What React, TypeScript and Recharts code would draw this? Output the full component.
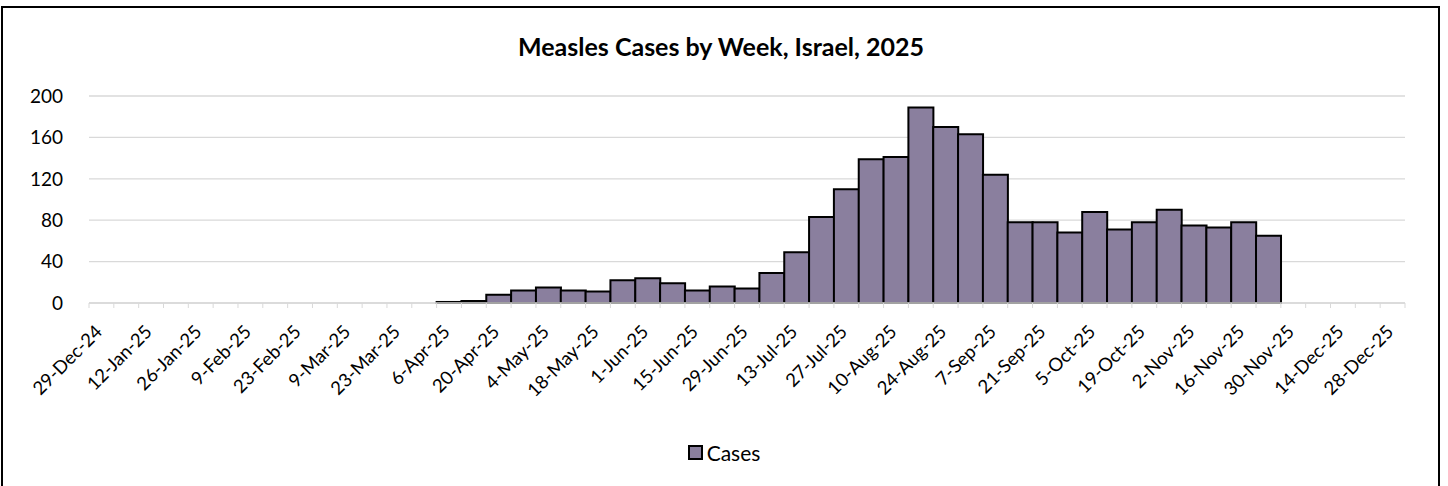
import { BarChart, Bar, XAxis, YAxis, CartesianGrid, Legend } from "recharts";

const weeks = [
  "29-Dec-24", "5-Jan-25", "12-Jan-25", "19-Jan-25", "26-Jan-25", "2-Feb-25", "9-Feb-25",
  "16-Feb-25", "23-Feb-25", "2-Mar-25", "9-Mar-25", "16-Mar-25", "23-Mar-25", "30-Mar-25",
  "6-Apr-25", "13-Apr-25", "20-Apr-25", "27-Apr-25", "4-May-25", "11-May-25", "18-May-25",
  "25-May-25", "1-Jun-25", "8-Jun-25", "15-Jun-25", "22-Jun-25", "29-Jun-25", "6-Jul-25",
  "13-Jul-25", "20-Jul-25", "27-Jul-25", "3-Aug-25", "10-Aug-25", "17-Aug-25", "24-Aug-25",
  "31-Aug-25", "7-Sep-25", "14-Sep-25", "21-Sep-25", "28-Sep-25", "5-Oct-25", "12-Oct-25",
  "19-Oct-25", "26-Oct-25", "2-Nov-25", "9-Nov-25", "16-Nov-25", "23-Nov-25", "30-Nov-25",
  "7-Dec-25", "14-Dec-25", "21-Dec-25", "28-Dec-25",
];

// weekly case counts, null = week not reported yet
const cases: (number | null)[] = [
  0, 0, 0, 0, 0, 0, 0, 0, 0, 0, 0, 0, 0, 0,
  1, 2, 8, 12, 15, 12, 11, 22, 24, 19, 12, 16, 14, 29, 49, 83, 110,
  139, 141, 189, 170, 163, 124, 78, 78, 68, 88, 71, 78, 90, 75, 73, 78, 65,
  null, null, null, null, null,
];

const yTicks = [0, 40, 80, 120, 160, 200];

const data = weeks.map((week, i) => ({ week, cases: cases[i] }));

const W = 1448;
const H = 486;
const MARGIN = { top: 96, right: 43, left: 0, bottom: 18 };
const Y_WIDTH = 89;
const BAR_FILL = "#8a7f9e";
const GRID = "#d9d9d9";
const FONT = "Lato, 'Open Sans', sans-serif";

function WeekTick(props: any) {
  const { x, y, payload, index } = props;
  const bw = (W - MARGIN.right - MARGIN.left - Y_WIDTH) / weeks.length;
  const half = payload?.offset || bw / 2;
  const i = payload?.index ?? index;
  const tx = x + 2;
  const ty = y + 30;
  return (
    <g>
      <line x1={x - half} x2={x - half} y1={y} y2={y + 5} stroke={GRID} />
      {i === weeks.length - 1 && (
        <line x1={x + half} x2={x + half} y1={y} y2={y + 5} stroke={GRID} />
      )}
      {i % 2 === 0 && (
        <text
          x={tx}
          y={ty}
          transform={`rotate(-45, ${tx}, ${ty})`}
          textAnchor="end"
          fontSize={18.5}
          fontFamily={FONT}
          fill="#000"
        >
          {payload.value}
        </text>
      )}
    </g>
  );
}

function CasesLegend() {
  return (
    <div
      style={{
        height: 32,
        display: "flex",
        alignItems: "center",
        justifyContent: "center",
        fontFamily: FONT,
        fontSize: 21,
        color: "#000",
      }}
    >
      <span
        style={{
          width: 11,
          height: 11,
          background: BAR_FILL,
          border: "2px solid #000",
          marginRight: 4,
        }}
      />
      Cases
    </div>
  );
}

export default function App() {
  return (
    <div style={{ position: "absolute", left: 0, top: 0, width: W, height: H, background: "#fff", overflow: "hidden" }}>
      <div
        style={{
          position: "absolute",
          left: 1,
          top: 6,
          width: W - 9,
          height: H,
          border: "2px solid #000",
          boxSizing: "border-box",
        }}
      />
      <div
        style={{
          position: "absolute",
          top: 31,
          left: 0,
          width: W - 6,
          textAlign: "center",
          fontFamily: FONT,
          fontWeight: 700,
          fontSize: 25,
          color: "#000",
        }}
      >
        Measles Cases by Week, Israel, 2025
      </div>
      <BarChart width={W} height={H} data={data} margin={MARGIN} barCategoryGap={0} barGap={0}>
        <CartesianGrid vertical={false} stroke={GRID} strokeWidth={1.3} />
        <XAxis
          dataKey="week"
          interval={0}
          tick={<WeekTick />}
          tickLine={false}
          tickSize={0}
          tickMargin={0}
          axisLine={{ stroke: GRID, strokeWidth: 1.3 }}
          height={133}
        />
        <YAxis
          width={Y_WIDTH}
          domain={[0, 200]}
          ticks={yTicks}
          axisLine={false}
          tickLine={false}
          tickSize={0}
          tickMargin={26}
          tick={{ fontSize: 19, fill: "#000", fontFamily: FONT }}
        />
        <Legend
          verticalAlign="bottom"
          content={<CasesLegend />}
          wrapperStyle={{ left: 0, width: W }}
        />
        <Bar dataKey="cases" name="Cases" fill={BAR_FILL} stroke="#000" strokeWidth={2} isAnimationActive={false} />
      </BarChart>
    </div>
  );
}
